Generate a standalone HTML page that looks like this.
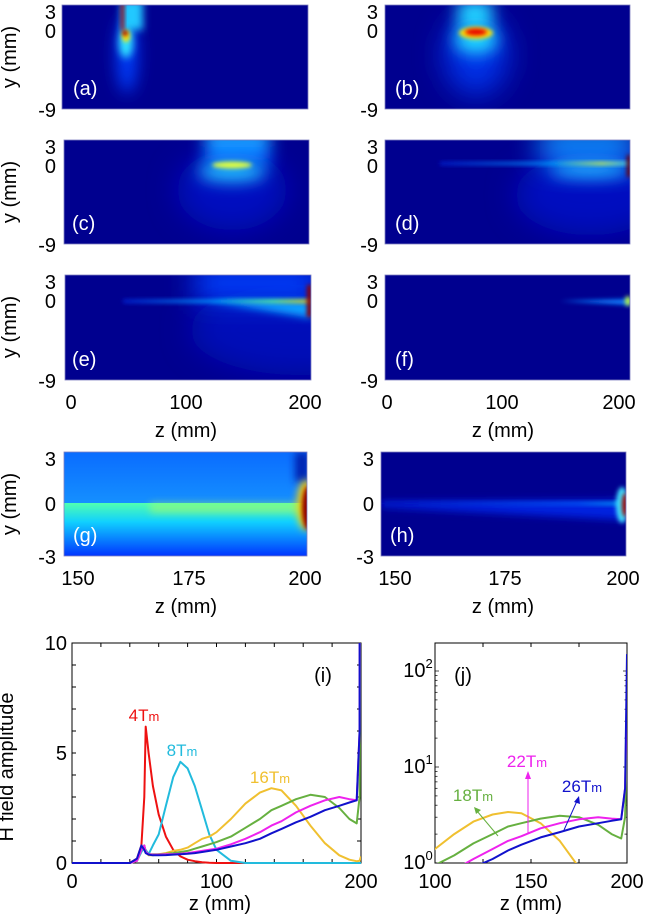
<!DOCTYPE html>
<html><head><meta charset="utf-8"><style>
html,body{margin:0;padding:0;background:#fff;width:645px;height:920px;overflow:hidden;}
svg{display:block;font-family:"Liberation Sans",Arial,sans-serif;}
</style></head><body>
<svg id="fig" width="645" height="920" viewBox="0 0 645 920">
<defs>
<filter id="b2" x="-100%" y="-100%" width="300%" height="300%"><feGaussianBlur stdDeviation="2"/></filter>
<filter id="b4" x="-100%" y="-100%" width="300%" height="300%"><feGaussianBlur stdDeviation="4"/></filter>
<filter id="b8" x="-100%" y="-100%" width="300%" height="300%"><feGaussianBlur stdDeviation="8"/></filter>
<filter id="b14" x="-100%" y="-100%" width="300%" height="300%"><feGaussianBlur stdDeviation="14"/></filter>
<clipPath id="ca"><rect x="62" y="5" width="246" height="104"/></clipPath>
<clipPath id="cb"><rect x="385" y="5" width="245" height="104"/></clipPath>
<clipPath id="cc"><rect x="64" y="140" width="245" height="104"/></clipPath>
<clipPath id="cd"><rect x="385" y="140" width="245" height="104"/></clipPath>
<clipPath id="ce"><rect x="65" y="275" width="246" height="105"/></clipPath>
<clipPath id="cf"><rect x="385" y="275" width="245" height="105"/></clipPath>
<clipPath id="cg"><rect x="64" y="452" width="243" height="104"/></clipPath>
<clipPath id="ch"><rect x="381" y="452" width="245" height="104"/></clipPath>
<clipPath id="ci"><rect x="72" y="643" width="289" height="221"/></clipPath>
<clipPath id="cj"><rect x="435" y="643" width="192" height="220"/></clipPath>
<linearGradient id="gTop" x1="0" y1="0" x2="0" y2="1"><stop offset="0" stop-color="#0a6cff"/><stop offset="1" stop-color="#1590ff"/></linearGradient>
<linearGradient id="gBot" x1="0" y1="0" x2="0" y2="1"><stop offset="0" stop-color="#50ffb0"/><stop offset="0.35" stop-color="#10d0ff"/><stop offset="1" stop-color="#0030ff"/></linearGradient>
<linearGradient id="gLineE" x1="0" y1="0" x2="1" y2="0"><stop offset="0" stop-color="#0020d0"/><stop offset="0.5" stop-color="#00a0ff"/><stop offset="0.8" stop-color="#60ff90"/><stop offset="1" stop-color="#ffe000"/></linearGradient>
<linearGradient id="gLineD" x1="0" y1="0" x2="1" y2="0"><stop offset="0" stop-color="#0020d0"/><stop offset="0.6" stop-color="#00a0ff"/><stop offset="0.85" stop-color="#e0ff40"/><stop offset="1" stop-color="#40e0ff"/></linearGradient>
<linearGradient id="gLineH" x1="0" y1="0" x2="1" y2="0"><stop offset="0" stop-color="#0010c0"/><stop offset="0.8" stop-color="#0060ff"/><stop offset="1" stop-color="#00c0ff"/></linearGradient>
<linearGradient id="gColC" x1="0" y1="0" x2="0" y2="1"><stop offset="0" stop-color="#20c0ff"/><stop offset="1" stop-color="#0050ff"/></linearGradient>
</defs>

<text x="16" y="57" font-size="20" text-anchor="middle" transform="rotate(-90 16 57)">y (mm)</text>
<text x="16" y="192" font-size="20" text-anchor="middle" transform="rotate(-90 16 192)">y (mm)</text>
<text x="16" y="327" font-size="20" text-anchor="middle" transform="rotate(-90 16 327)">y (mm)</text>
<text x="16" y="504" font-size="20" text-anchor="middle" transform="rotate(-90 16 504)">y (mm)</text>

<g clip-path="url(#ca)">
<rect x="62" y="5" width="246" height="104" fill="#00008f"/>
<ellipse cx="127" cy="55" rx="10" ry="38" fill="#0040ff" filter="url(#b8)"/>
<rect x="121" y="0" width="22" height="30" fill="#20c8ff" filter="url(#b4)"/>
<ellipse cx="126" cy="42" rx="7" ry="16" fill="#30e8ff" filter="url(#b4)"/>
<ellipse cx="126" cy="36" rx="4" ry="6" fill="#ffe000" filter="url(#b2)"/>
<rect x="121" y="2" width="3" height="28" fill="#b00000" filter="url(#b2)"/>
<ellipse cx="125" cy="33" rx="3" ry="3" fill="#a00000" filter="url(#b2)"/>
<line x1="126" y1="30" x2="150" y2="30" stroke="#40d0ff" stroke-width="1.5" filter="url(#b2)"/>
</g>
<rect x="62" y="5" width="246" height="104" fill="none" stroke="#8080c0" stroke-width="0.8"/>
<text x="73" y="95" font-size="20" fill="#fff">(a)</text>

<g clip-path="url(#cb)">
<rect x="385" y="5" width="245" height="104" fill="#00008f"/>
<ellipse cx="476" cy="55" rx="32" ry="40" fill="#0030e8" filter="url(#b14)"/>
<rect x="458" y="0" width="34" height="30" fill="#20d0ff" filter="url(#b8)"/>
<ellipse cx="476" cy="40" rx="22" ry="14" fill="#20d8ff" filter="url(#b8)"/>
<ellipse cx="476" cy="33" rx="17" ry="6" fill="#ffe000" filter="url(#b2)"/>
<ellipse cx="476" cy="32" rx="11" ry="3.5" fill="#e80000" filter="url(#b2)"/>
<line x1="445" y1="30" x2="512" y2="30" stroke="#40d0ff" stroke-width="1.2" filter="url(#b2)"/>
</g>
<rect x="385" y="5" width="245" height="104" fill="none" stroke="#8080c0" stroke-width="0.8"/>
<text x="395" y="95" font-size="20" fill="#fff">(b)</text>

<g clip-path="url(#cc)">
<rect x="64" y="140" width="245" height="104" fill="#00008f"/>
<ellipse cx="232" cy="190" rx="55" ry="40" fill="#0010c0" filter="url(#b14)"/>
<rect x="205" y="130" width="65" height="36" fill="url(#gColC)" filter="url(#b8)"/>
<ellipse cx="232" cy="172" rx="34" ry="10" fill="#20c0ff" filter="url(#b8)"/>
<line x1="123" y1="163" x2="290" y2="163" stroke="#2080ff" stroke-width="2" filter="url(#b2)"/>
<ellipse cx="232" cy="165" rx="20" ry="3.5" fill="#e0ff40" filter="url(#b2)"/>
</g>
<rect x="64" y="140" width="245" height="104" fill="none" stroke="#8080c0" stroke-width="0.8"/>
<text x="72" y="230" font-size="20" fill="#fff">(c)</text>

<g clip-path="url(#cd)">
<rect x="385" y="140" width="245" height="104" fill="#00008f"/>
<ellipse cx="590" cy="195" rx="75" ry="40" fill="#0010c0" filter="url(#b14)"/>
<rect x="540" y="130" width="95" height="36" fill="url(#gColC)" filter="url(#b14)"/>
<ellipse cx="590" cy="170" rx="40" ry="8" fill="#20b0ff" filter="url(#b8)"/>
<rect x="440" y="162" width="190" height="3" fill="url(#gLineD)" filter="url(#b2)"/>
<rect x="627" y="155" width="4" height="22" fill="#700000" filter="url(#b2)"/>
</g>
<rect x="385" y="140" width="245" height="104" fill="none" stroke="#8080c0" stroke-width="0.8"/>
<text x="395" y="230" font-size="20" fill="#fff">(d)</text>

<g clip-path="url(#ce)">
<rect x="65" y="275" width="246" height="105" fill="#00008f"/>
<ellipse cx="300" cy="330" rx="110" ry="45" fill="#0010b8" filter="url(#b14)"/>
<rect x="195" y="265" width="125" height="36" fill="#0040ff" filter="url(#b14)"/>
<polygon points="210,301 311,301 311,318" fill="#10a0ff" filter="url(#b4)"/>
<rect x="123" y="299.5" width="188" height="3.5" fill="url(#gLineE)" filter="url(#b2)"/>
<rect x="307" y="285" width="5" height="32" fill="#900000" filter="url(#b2)"/>
</g>
<rect x="65" y="275" width="246" height="105" fill="none" stroke="#8080c0" stroke-width="0.8"/>
<text x="72" y="366" font-size="20" fill="#fff">(e)</text>

<g clip-path="url(#cf)">
<rect x="385" y="275" width="245" height="105" fill="#00008f"/>
<polygon points="560,301 630,299 630,305" fill="#1080ff" filter="url(#b2)"/>
<ellipse cx="628" cy="301" rx="3" ry="5" fill="#c0ff40" filter="url(#b2)"/>
</g>
<rect x="385" y="275" width="245" height="105" fill="none" stroke="#8080c0" stroke-width="0.8"/>
<text x="395" y="366" font-size="20" fill="#fff">(f)</text>

<g clip-path="url(#cg)">
<rect x="64" y="452" width="243" height="52" fill="url(#gTop)"/>
<rect x="64" y="503" width="243" height="54" fill="url(#gBot)"/>
<rect x="150" y="503" width="150" height="10" fill="#c0ff50" opacity="0.5" filter="url(#b4)"/>
<rect x="295" y="452" width="14" height="30" fill="#0020b0" filter="url(#b4)"/>
<ellipse cx="306" cy="505" rx="9" ry="25" fill="#ffd000" filter="url(#b4)"/>
<ellipse cx="308" cy="508" rx="6" ry="22" fill="#900000" filter="url(#b2)"/>
</g>
<rect x="64" y="452" width="243" height="104" fill="none" stroke="#8080c0" stroke-width="0.8"/>
<text x="73" y="542" font-size="20" fill="#fff">(g)</text>

<g clip-path="url(#ch)">
<rect x="381" y="452" width="245" height="104" fill="#00008f"/>
<polygon points="381,502 626,500 626,520 381,507" fill="#0020e0" filter="url(#b4)"/>
<rect x="381" y="502" width="245" height="3" fill="url(#gLineH)" filter="url(#b2)"/>
<ellipse cx="622" cy="505" rx="6" ry="18" fill="#40e0ff" filter="url(#b2)"/>
<ellipse cx="625" cy="505" rx="3" ry="12" fill="#a00000" filter="url(#b2)"/>
</g>
<rect x="381" y="452" width="245" height="104" fill="none" stroke="#8080c0" stroke-width="0.8"/>
<text x="390" y="542" font-size="20" fill="#fff">(h)</text>

<g font-size="20" text-anchor="end">
<text x="56" y="19">3</text><text x="56" y="38">0</text><text x="56" y="117">-9</text>
<text x="378" y="19">3</text><text x="378" y="38">0</text><text x="378" y="117">-9</text>
<text x="56" y="154">3</text><text x="56" y="173">0</text><text x="56" y="252">-9</text>
<text x="378" y="154">3</text><text x="378" y="173">0</text><text x="378" y="252">-9</text>
<text x="56" y="289">3</text><text x="56" y="308">0</text><text x="56" y="388">-9</text>
<text x="378" y="289">3</text><text x="378" y="308">0</text><text x="378" y="388">-9</text>
<text x="56" y="466">3</text><text x="56" y="511">0</text><text x="56" y="564">-3</text>
<text x="374" y="466">3</text><text x="374" y="511">0</text><text x="374" y="564">-3</text>
</g>
<g font-size="20" text-anchor="middle">
<text x="71" y="409">0</text><text x="186" y="409">100</text><text x="305" y="409">200</text>
<text x="387" y="409">0</text><text x="502" y="409">100</text><text x="619" y="409">200</text>
<text x="78" y="585">150</text><text x="189" y="585">175</text><text x="305" y="585">200</text>
<text x="395" y="585">150</text><text x="505" y="585">175</text><text x="623" y="585">200</text>
</g>
<g font-size="20" text-anchor="middle">
<text x="186" y="437">z (mm)</text><text x="503" y="437">z (mm)</text>
<text x="186" y="613">z (mm)</text><text x="503" y="613">z (mm)</text>
</g>

<g id="chartI"></g>
<g id="chartJ"></g>

<text x="13" y="767" font-size="20" text-anchor="middle" transform="rotate(-90 13 767)">H field amplitude</text>
<text x="220" y="910" font-size="20" text-anchor="middle">z (mm)</text>
<text x="531" y="910" font-size="20" text-anchor="middle">z (mm)</text>
<text x="323" y="682" font-size="20" text-anchor="middle">(i)</text>
<text x="463" y="682" font-size="20" text-anchor="middle">(j)</text>

<g font-size="17" text-anchor="middle">
<text x="144" y="721" fill="#ee1111">4T<tspan font-size="13">m</tspan></text>
<text x="182" y="756" fill="#22bbdd">8T<tspan font-size="13">m</tspan></text>
<text x="270" y="783" fill="#f0c030">16T<tspan font-size="13">m</tspan></text>
<text x="473" y="801" fill="#66b040">18T<tspan font-size="13">m</tspan></text>
<text x="527" y="767" fill="#ee22ee">22T<tspan font-size="13">m</tspan></text>
<text x="582" y="792" fill="#1111cc">26T<tspan font-size="13">m</tspan></text>
</g>
<g>
<line x1="498" y1="836" x2="477" y2="811" stroke="#66b040" stroke-width="1"/>
<polygon points="474,807 481,810 476,814" fill="#66b040"/>
<line x1="528" y1="833" x2="528" y2="776" stroke="#ee22ee" stroke-width="1"/>
<polygon points="528,771 531,779 525,779" fill="#ee22ee"/>
<line x1="564" y1="830" x2="577" y2="801" stroke="#1111cc" stroke-width="1"/>
<polygon points="579,796 580,804 574,802" fill="#1111cc"/>
</g>
</svg>
<script>
const zVals = [0,40,45,48,50,51,53,56,60,65,70,75,80,85,90,95,100,110,120,130,138,145,155,165,175,185,192,197,199,200];
const s4  = [0,0,0.2,0.8,3,6.2,5,3.5,2.2,1.2,0.6,0.3,0.15,0.08,0.03,0.01,0,0,0,0,0,0,0,0,0,0,0,0,0,0];
const s8  = [0,0,0.1,0.5,0.7,0.6,0.4,0.8,1.3,2.6,3.9,4.6,4.3,3.5,2.4,1.3,0.6,0.1,0,0,0,0,0,0,0,0,0,0,0,0];
const s16 = [0,0,0.1,0.6,0.8,0.5,0.35,0.35,0.4,0.45,0.55,0.6,0.7,0.9,1.1,1.2,1.4,2.0,2.7,3.2,3.4,3.3,2.6,1.7,0.9,0.35,0.15,0.08,0.1,0.3];
const s18 = [0,0,0.1,0.6,0.8,0.5,0.4,0.4,0.4,0.42,0.45,0.5,0.55,0.65,0.75,0.85,0.95,1.2,1.6,2.0,2.4,2.6,2.9,3.1,3.0,2.5,2.0,1.8,3,20];
const s22 = [0,0,0.1,0.6,0.8,0.5,0.4,0.38,0.38,0.4,0.4,0.42,0.45,0.5,0.55,0.6,0.65,0.85,1.1,1.4,1.7,1.9,2.3,2.6,2.85,3.0,2.9,2.85,6,60];
const s26 = [0,0,0.2,0.8,0.6,0.45,0.38,0.35,0.35,0.36,0.38,0.4,0.42,0.45,0.5,0.55,0.6,0.75,0.9,1.1,1.35,1.55,1.85,2.1,2.4,2.6,2.75,2.85,6,150];
const xTicksI = [0,100,200];
const yTicksI = [0,5,10];
const xTicksJ = [100,150,200];
const yTicksJ = [0,1,2];

const NS = "http://www.w3.org/2000/svg";
function mk(tag, attrs, parent){const e=document.createElementNS(NS,tag);for(const k in attrs)e.setAttribute(k,attrs[k]);parent.appendChild(e);return e;}
const xI = z => 72 + z*289/200;
const yI = v => 863 - v*22;
const xJ = z => 435 + (z-100)*192/100;
const yJ = v => 863 - Math.log10(Math.max(v,1e-3))*96;

const gI = document.getElementById('chartI');
const gJ = document.getElementById('chartJ');

let r = mk('rect',{x:72,y:643,width:289,height:220,fill:'none',stroke:'#000','stroke-width':1},gI);


for(let z=0; z<=200; z+=20){
  mk('line',{x1:xI(z),y1:863,x2:xI(z),y2:859,stroke:'#000'},gI);
  mk('line',{x1:xI(z),y1:643,x2:xI(z),y2:647,stroke:'#000'},gI);
}
for(let v=0; v<=10; v+=1){
  mk('line',{x1:72,y1:yI(v),x2:76,y2:yI(v),stroke:'#000'},gI);
  mk('line',{x1:361,y1:yI(v),x2:357,y2:yI(v),stroke:'#000'},gI);
}
xTicksI.forEach(t=>{const e=mk('text',{x:xI(t),y:888,'font-size':20,'text-anchor':'middle'},gI);e.textContent=t;
  
  });
yTicksI.forEach(t=>{const e=mk('text',{x:67,y:yI(t)+7,'font-size':20,'text-anchor':'end'},gI);e.textContent=t;
  
  });

r = mk('rect',{x:435,y:643,width:192,height:220,fill:'none',stroke:'#000','stroke-width':1},gJ);


for(let z=100; z<=200; z+=25){
  mk('line',{x1:xJ(z),y1:863,x2:xJ(z),y2:859,stroke:'#000'},gJ);
  mk('line',{x1:xJ(z),y1:643,x2:xJ(z),y2:647,stroke:'#000'},gJ);
}
for(let d=0; d<3; d++){for(let m=1;m<10;m++){const v=m*Math.pow(10,d);const y=yJ(v);if(y<643)continue;
  const L=m===1?4:2.5;
  mk('line',{x1:435,y1:y,x2:435+L,y2:y,stroke:'#000','stroke-width':0.7},gJ);
  mk('line',{x1:627,y1:y,x2:627-L,y2:y,stroke:'#000','stroke-width':0.7},gJ);}}
xTicksJ.forEach(t=>{const e=mk('text',{x:xJ(t),y:888,'font-size':20,'text-anchor':'middle'},gJ);e.textContent=t;
  
  });
yTicksJ.forEach(p=>{const e=mk('text',{x:418,y:yJ(Math.pow(10,p))+6,'font-size':20,'text-anchor':'middle'},gJ);
  e.textContent='10';
  const s=mk('tspan',{dy:-9,'font-size':13},e);s.textContent=p;
  
  });

const seriesI = [[s4,'#ee1111','series-4tm'],[s8,'#22bbdd','series-8tm'],[s16,'#f0c030','series-16tm'],[s18,'#66b040','series-18tm'],[s22,'#ee22ee','series-22tm'],[s26,'#1111cc','series-26tm']];
const ciG = mk('g',{'clip-path':'url(#ci)'},gI);
seriesI.forEach(([vals,col,name])=>{
  const pts = zVals.map((z,i)=>xI(z).toFixed(1)+','+yI(vals[i]).toFixed(1)).join(' ');
  const p = mk('polyline',{points:pts,fill:'none',stroke:col,'stroke-width':2,'stroke-linejoin':'round'},ciG);
  
  
});
const seriesJ = [[s16,'#f0c030','series-16tm-log'],[s18,'#66b040','series-18tm-log'],[s22,'#ee22ee','series-22tm-log'],[s26,'#1111cc','series-26tm-log']];
const cjG = mk('g',{'clip-path':'url(#cj)'},gJ);
seriesJ.forEach(([vals,col,name])=>{
  const pts = zVals.map((z,i)=>xJ(z).toFixed(1)+','+yJ(vals[i]).toFixed(1)).join(' ');
  const p = mk('polyline',{points:pts,fill:'none',stroke:col,'stroke-width':2,'stroke-linejoin':'round'},cjG);
  
  
});
</script>
</body></html>
